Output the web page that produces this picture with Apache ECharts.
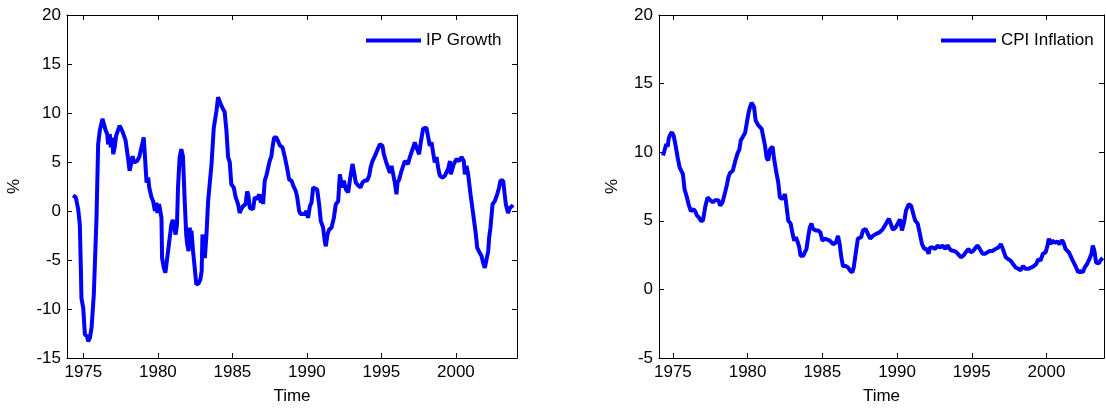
<!DOCTYPE html>
<html>
<head>
<meta charset="utf-8">
<script src="https://cdn.jsdelivr.net/npm/echarts@6/dist/echarts.min.js"></script>
<style>html,body{margin:0;padding:0;background:#fff}#c{width:1106px;height:410px}</style>
</head>
<body>
<div id="c"></div>
<script>
const xTicks = [1975, 1980, 1985, 1990, 1995, 2000];
const ipTicks = [-15, -10, -5, 0, 5, 10, 15, 20];
const cpiTicks = [-5, 0, 5, 10, 15, 20];

const ipYears = [1974.31,1974.49,1974.65,1974.76,1974.83,1974.87,1974.99,1975.1,1975.25,1975.32,1975.43,1975.55,1975.7,1975.88,1975.99,1976.1,1976.28,1976.4,1976.5,1976.6,1976.66,1976.77,1976.84,1976.95,1977.0,1977.1,1977.2,1977.43,1977.54,1977.65,1977.77,1977.83,1977.99,1978.1,1978.2,1978.3,1978.4,1978.6,1978.75,1978.9,1979.05,1979.15,1979.24,1979.35,1979.42,1979.57,1979.68,1979.8,1979.9,1979.97,1980.08,1980.24,1980.28,1980.4,1980.5,1980.6,1980.74,1980.9,1981.0,1981.12,1981.19,1981.28,1981.35,1981.46,1981.57,1981.68,1981.8,1981.9,1981.97,1982.06,1982.14,1982.18,1982.25,1982.36,1982.47,1982.58,1982.72,1982.85,1982.94,1982.99,1983.08,1983.15,1983.26,1983.37,1983.6,1983.75,1983.93,1984.04,1984.15,1984.26,1984.37,1984.48,1984.6,1984.71,1984.82,1984.93,1985.09,1985.22,1985.38,1985.49,1985.6,1985.72,1985.88,1985.99,1986.06,1986.17,1986.28,1986.39,1986.5,1986.66,1986.8,1986.91,1987.0,1987.06,1987.17,1987.28,1987.5,1987.62,1987.69,1987.8,1987.96,1988.07,1988.18,1988.36,1988.52,1988.67,1988.81,1988.97,1989.08,1989.26,1989.35,1989.48,1989.57,1989.7,1989.86,1989.97,1990.08,1990.2,1990.31,1990.42,1990.53,1990.69,1990.82,1990.93,1991.09,1991.2,1991.27,1991.38,1991.49,1991.65,1991.81,1991.94,1992.1,1992.21,1992.28,1992.37,1992.48,1992.62,1992.77,1992.88,1993.06,1993.15,1993.28,1993.44,1993.6,1993.73,1993.89,1994.04,1994.18,1994.27,1994.4,1994.56,1994.67,1994.78,1994.89,1995.07,1995.16,1995.3,1995.45,1995.57,1995.68,1995.79,1995.9,1996.01,1996.08,1996.19,1996.35,1996.57,1996.68,1996.79,1996.91,1997.09,1997.24,1997.35,1997.53,1997.62,1997.8,1998.02,1998.14,1998.25,1998.36,1998.47,1998.58,1998.7,1998.81,1998.92,1999.1,1999.26,1999.37,1999.48,1999.6,1999.66,1999.77,1999.86,2000.04,2000.22,2000.38,2000.53,2000.6,2000.71,2000.82,2000.98,2001.16,2001.34,2001.43,2001.61,2001.72,2001.83,2001.94,2002.05,2002.17,2002.23,2002.32,2002.46,2002.61,2002.77,2002.9,2002.99,2003.17,2003.35,2003.5,2003.62,2003.84];
const ipValues = [1.6,1.4,0.2,-1.4,-5.8,-8.9,-9.9,-12.6,-12.8,-13.3,-13.0,-11.9,-8.5,-0.7,6.8,8.2,9.4,9.2,8.2,7.85,6.8,7.85,6.5,7.5,5.8,6.5,7.7,8.7,8.4,8.0,8.2,7.2,5.5,4.1,4.8,5.6,4.95,5.1,5.5,6.5,7.5,7.5,2.9,3.4,2.4,1.4,1.0,0.0,0.85,-0.2,0.7,-0.7,-4.8,-5.8,-6.3,-5.1,-3.4,-1.4,-0.9,-1.0,-2.4,-1.4,2.4,5.5,6.3,5.6,1.0,-2.4,-3.4,-4.1,-1.7,-3.1,-2.0,-4.1,-5.8,-7.5,-7.4,-7.0,-6.1,-2.4,-3.1,-4.8,-2.4,1.0,4.8,8.5,10.2,11.6,11.4,10.75,10.4,10.1,8.2,5.5,5.0,2.7,2.4,1.4,0.7,-0.2,0.2,0.5,0.7,2.0,1.7,0.3,0.5,0.2,1.4,1.2,1.7,0.85,1.7,0.7,3.1,3.6,5.1,5.6,6.5,7.5,7.5,7.3,6.7,6.5,5.5,4.4,3.2,3.1,2.6,2.0,1.4,0.0,-0.3,-0.2,-0.3,0.0,-0.7,0.5,0.85,2.4,2.6,2.2,0.7,-1.0,-1.7,-3.1,-3.6,-2.4,-1.9,-1.7,-0.7,0.7,1.0,3.75,3.9,2.4,3.1,2.2,1.9,3.1,4.8,4.1,2.9,2.6,2.4,2.9,3.1,3.1,3.6,4.4,5.1,5.6,6.0,6.0,6.8,6.65,5.8,5.1,4.4,3.9,4.6,4.8,2.9,1.7,2.9,3.2,4.1,5.1,5.3,4.8,5.5,6.3,7.0,6.5,5.8,6.8,8.4,8.5,8.5,6.65,7.0,6.8,4.95,5.5,4.4,3.6,3.4,3.6,3.75,4.3,5.1,3.75,3.9,4.8,5.3,5.1,5.5,5.1,3.75,4.6,3.75,1.7,-0.3,-2.4,-3.75,-4.3,-4.6,-5.3,-5.8,-5.6,-4.1,-2.7,-1.7,0.7,1.0,1.7,2.4,3.1,3.1,0.7,-0.2,0.3,0.6];

const cpiYears = [1974.34,1974.43,1974.56,1974.65,1974.72,1974.83,1974.94,1975.05,1975.16,1975.32,1975.45,1975.56,1975.67,1975.78,1975.94,1976.05,1976.2,1976.38,1976.49,1976.6,1976.74,1976.87,1977.01,1977.16,1977.32,1977.5,1977.67,1977.83,1978.05,1978.16,1978.32,1978.43,1978.61,1978.72,1978.83,1979.01,1979.16,1979.32,1979.45,1979.54,1979.72,1979.83,1979.94,1980.05,1980.16,1980.27,1980.43,1980.54,1980.72,1980.94,1981.05,1981.16,1981.27,1981.38,1981.5,1981.67,1981.76,1981.9,1982.05,1982.16,1982.34,1982.5,1982.61,1982.72,1982.88,1983.01,1983.12,1983.23,1983.32,1983.45,1983.54,1983.72,1983.83,1983.94,1984.05,1984.16,1984.27,1984.38,1984.56,1984.72,1984.87,1985.01,1985.16,1985.27,1985.5,1985.72,1985.9,1986.05,1986.16,1986.27,1986.38,1986.56,1986.72,1986.87,1987.01,1987.1,1987.23,1987.38,1987.6,1987.72,1987.9,1988.05,1988.2,1988.38,1988.6,1988.83,1989.05,1989.27,1989.45,1989.54,1989.72,1989.89,1990.05,1990.2,1990.33,1990.49,1990.6,1990.78,1990.94,1991.09,1991.22,1991.38,1991.53,1991.67,1991.83,1991.98,1992.11,1992.2,1992.38,1992.56,1992.71,1992.87,1993.05,1993.22,1993.38,1993.6,1993.82,1993.98,1994.11,1994.27,1994.43,1994.6,1994.78,1994.94,1995.09,1995.27,1995.38,1995.54,1995.72,1995.89,1996.05,1996.2,1996.38,1996.6,1996.78,1996.94,1997.05,1997.16,1997.27,1997.45,1997.6,1997.76,1997.94,1998.11,1998.27,1998.43,1998.6,1998.78,1999.0,1999.16,1999.32,1999.45,1999.6,1999.76,1999.94,2000.07,2000.16,2000.27,2000.38,2000.56,2000.72,2000.87,2001.05,2001.16,2001.27,2001.38,2001.5,2001.6,2001.76,2001.94,2002.12,2002.27,2002.43,2002.56,2002.72,2002.87,2003.01,2003.1,2003.21,2003.32,2003.5,2003.6,2003.76];
const cpiValues = [9.76,10.1,10.6,10.4,11.0,11.3,11.45,11.2,10.6,9.6,8.9,9.0,8.4,7.3,6.7,6.2,5.7,5.85,5.7,5.4,5.25,5.0,5.0,6.0,6.7,6.5,6.35,6.5,6.5,6.1,6.35,6.8,7.6,8.2,8.5,8.65,9.3,9.9,10.2,10.85,11.2,11.4,12.1,12.8,13.3,13.6,13.3,12.3,11.95,11.7,11.1,10.5,9.6,9.4,10.2,10.4,9.6,8.65,7.8,6.7,6.6,6.95,6.0,5.0,4.8,4.05,3.55,3.8,3.55,3.1,2.45,2.45,2.7,2.95,3.8,4.5,4.8,4.4,4.3,4.3,4.15,3.55,3.7,3.7,3.55,3.3,3.4,3.9,3.3,2.35,1.7,1.7,1.6,1.35,1.25,1.6,2.6,3.7,3.8,4.3,4.4,4.05,3.7,3.9,4.05,4.15,4.4,4.8,5.15,4.9,4.35,4.5,4.8,5.1,4.3,5.0,5.75,6.2,6.1,5.5,5.0,4.8,4.05,3.3,2.95,2.95,2.6,3.05,3.05,2.95,3.2,3.05,3.2,2.95,3.2,2.85,2.8,2.7,2.6,2.35,2.45,2.7,2.95,2.7,2.8,3.05,3.2,2.95,2.6,2.6,2.7,2.8,2.8,2.95,3.05,3.3,3.05,2.7,2.35,2.2,2.1,1.85,1.6,1.5,1.4,1.7,1.5,1.5,1.6,1.7,1.85,2.2,2.1,2.6,2.7,3.2,3.7,3.3,3.55,3.4,3.5,3.3,3.6,3.35,2.95,3.05,2.7,2.6,2.1,1.7,1.25,1.35,1.25,1.6,1.85,2.2,2.6,3.2,2.8,1.95,1.9,2.1,2.3];

const FONT = 'Liberation Sans, Arial, sans-serif';
const FS = 17;
const pairs = (xs, ys) => xs.map((x, i) => [x, ys[i]]);

function xAxes(gi, min, max) {
  return [
    { type: 'value', gridIndex: gi, min: min, max: max, position: 'bottom',
      name: 'Time', nameLocation: 'middle', nameGap: 30,
      nameTextStyle: { color: '#000', fontSize: FS, fontFamily: FONT },
      splitLine: { show: false },
      axisLine: { show: true, onZero: false, lineStyle: { color: '#000', width: 1 } },
      axisTick: { show: true, inside: true, length: 5, customValues: xTicks, lineStyle: { color: '#000' } },
      axisLabel: { show: true, customValues: xTicks, margin: 6, color: '#000', fontSize: FS, fontFamily: FONT,
        formatter: v => String(v) } },
    { type: 'value', gridIndex: gi, min: min, max: max, position: 'top',
      splitLine: { show: false },
      axisLine: { show: true, onZero: false, lineStyle: { color: '#000', width: 1 } },
      axisTick: { show: true, inside: true, length: 5, customValues: xTicks, lineStyle: { color: '#000' } },
      axisLabel: { show: false } }
  ];
}
function yAxes(gi, min, max, gap, ticks) {
  return [
    { type: 'value', gridIndex: gi, min: min, max: max, interval: 5, position: 'left',
      name: '%', nameLocation: 'middle', nameGap: gap,
      nameTextStyle: { color: '#000', fontSize: FS, fontFamily: FONT },
      splitLine: { show: false },
      axisLine: { show: true, onZero: false, lineStyle: { color: '#000', width: 1 } },
      axisTick: { show: true, inside: true, length: 5, customValues: ticks, lineStyle: { color: '#000' } },
      axisLabel: { show: true, customValues: ticks, margin: 6, color: '#000', fontSize: FS, fontFamily: FONT,
        formatter: v => String(v) } },
    { type: 'value', gridIndex: gi, min: min, max: max, interval: 5, position: 'right',
      splitLine: { show: false },
      axisLine: { show: true, onZero: false, lineStyle: { color: '#000', width: 1 } },
      axisTick: { show: true, inside: true, length: 5, customValues: ticks, lineStyle: { color: '#000' } },
      axisLabel: { show: false } }
  ];
}

const chart = echarts.init(document.getElementById('c'), null, { renderer: 'canvas' });
chart.setOption({
  animation: false,
  backgroundColor: '#fff',
  grid: [
    { left: 67, top: 15, width: 450, height: 343 },
    { left: 659, top: 15, width: 445, height: 343 }
  ],
  legend: [
    { data: ['IP Growth'], left: 361, top: 27, icon: 'rect', itemWidth: 55, itemHeight: 4, itemGap: 5,
      textStyle: { color: '#000', fontSize: FS, fontFamily: FONT } },
    { data: ['CPI Inflation'], left: 936, top: 27, icon: 'rect', itemWidth: 55, itemHeight: 4, itemGap: 5,
      textStyle: { color: '#000', fontSize: FS, fontFamily: FONT } }
  ],
  xAxis: [...xAxes(0, 1973.9, 2004.1), ...xAxes(1, 1974.07, 2003.85)],
  yAxis: [...yAxes(0, -15, 20, 44, ipTicks), ...yAxes(1, -5, 20, 38, cpiTicks)],
  series: [
    { name: 'IP Growth', type: 'line', xAxisIndex: 0, yAxisIndex: 0, data: pairs(ipYears, ipValues),
      showSymbol: false, symbol: 'none', lineStyle: { color: '#0000ff', width: 4 }, itemStyle: { color: '#0000ff' } },
    { name: 'CPI Inflation', type: 'line', xAxisIndex: 2, yAxisIndex: 2, data: pairs(cpiYears, cpiValues),
      showSymbol: false, symbol: 'none', lineStyle: { color: '#0000ff', width: 4 }, itemStyle: { color: '#0000ff' } }
  ]
});
</script>
</body>
</html>
